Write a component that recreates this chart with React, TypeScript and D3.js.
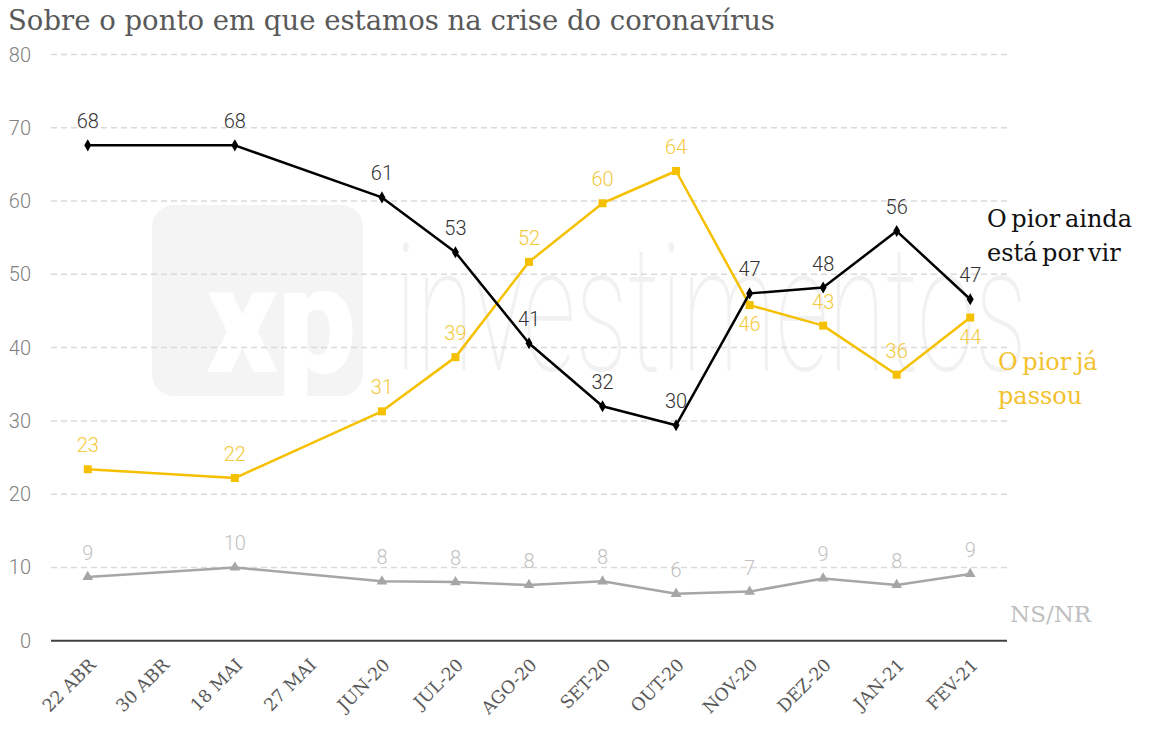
import React from "react";
import * as d3 from "d3";

// x-axis categories (only some of them carry a survey point)
const categories = [
  "22 ABR", "30 ABR", "18 MAI", "27 MAI", "JUN-20", "JUL-20", "AGO-20",
  "SET-20", "OUT-20", "NOV-20", "DEZ-20", "JAN-21", "FEV-21",
];
const surveyDates = [
  "22 ABR", "18 MAI", "JUN-20", "JUL-20", "AGO-20", "SET-20",
  "OUT-20", "NOV-20", "DEZ-20", "JAN-21", "FEV-21",
];

const piorAindaValues = [67.6, 67.6, 60.5, 53.0, 40.6, 32.0, 29.4, 47.4, 48.2, 55.9, 46.6];
const piorAindaLabels = [68, 68, 61, 53, 41, 32, 30, 47, 48, 56, 47];

const piorPassouValues = [23.4, 22.2, 31.3, 38.7, 51.7, 59.7, 64.1, 45.8, 43.0, 36.3, 44.1];
const piorPassouLabels = [23, 22, 31, 39, 52, 60, 64, 46, 43, 36, 44];
const piorPassouBelow = ["NOV-20", "FEV-21"];

const nsnrValues = [8.7, 10.0, 8.1, 8.0, 7.6, 8.1, 6.4, 6.7, 8.5, 7.6, 9.1];
const nsnrLabels = [9, 10, 8, 8, 8, 8, 6, 7, 9, 8, 9];

const yTicks = [0, 10, 20, 30, 40, 50, 60, 70, 80];

const W = 1153;
const H = 731;
const SLAB = "'DejaVu Serif', serif";
const SANS = "Roboto, 'Noto Sans', sans-serif";

interface Series {
  key: string;
  values: number[];
  labels: number[];
  line: string;
  text: string;
  symbol: d3.SymbolType;
  size: number;
  below: string[];
}

const series: Series[] = [
  {
    key: "nsnr",
    values: nsnrValues,
    labels: nsnrLabels,
    line: "#a6a6a6",
    text: "#bfbfbf",
    symbol: d3.symbolTriangle,
    size: 50,
    below: [],
  },
  {
    key: "passou",
    values: piorPassouValues,
    labels: piorPassouLabels,
    line: "#f5c000",
    text: "#f4c93c",
    symbol: d3.symbolSquare,
    size: 64,
    below: piorPassouBelow,
  },
  {
    key: "ainda",
    values: piorAindaValues,
    labels: piorAindaLabels,
    line: "#000000",
    text: "#333333",
    symbol: d3.symbolDiamond,
    size: 42,
    below: [],
  },
];

export default function App() {
  const x = d3.scalePoint<string>().domain(categories).range([51, 1007]).padding(0.5);
  const y = d3.scaleLinear().domain([0, 80]).range([640.7, 54.5]);
  const [x0, x1] = x.range();

  const line = d3
    .line<number>()
    .x((_, i) => x(surveyDates[i]) ?? 0)
    .y((d) => y(d));

  return (
    <svg
      width={W}
      height={H}
      style={{ position: "absolute", left: 0, top: 0, background: "#fff" }}
    >
      {/* watermark */}
      <g>
        <rect x={152} y={205} width={211} height={191} rx={22} fill="#f4f4f4" />
        <text
          x={206}
          y={372}
          fontFamily={SANS}
          fontWeight={900}
          fontSize={150}
          fill="#ffffff"
          textLength={150}
          lengthAdjust="spacingAndGlyphs"
        >
          xp
        </text>
        <text
          x={395}
          y={370}
          fontFamily={SANS}
          fontWeight={100}
          fontSize={176}
          fill="#f1f1f1"
          textLength={632}
          lengthAdjust="spacingAndGlyphs"
        >
          investimentos
        </text>
      </g>

      <text
        x={8}
        y={30}
        fontFamily={SLAB}
        fontSize={27}
        fill="#595959"
        textLength={767}
        lengthAdjust="spacingAndGlyphs"
      >
        Sobre o ponto em que estamos na crise do coronavírus
      </text>

      {/* grid */}
      <g>
        {yTicks.filter((t) => t > 0).map((t) => (
          <line
            key={t}
            x1={x0}
            x2={x1}
            y1={y(t)}
            y2={y(t)}
            stroke="#d9d9d9"
            strokeWidth={1.5}
            strokeDasharray="6 4"
          />
        ))}
        {yTicks.map((t) => (
          <text
            key={"l" + t}
            x={31}
            y={y(t)}
            dy="0.35em"
            textAnchor="end"
            fontFamily={SANS}
            fontWeight={300}
            fontSize={20}
            fill="#7f7f7f"
          >
            {t}
          </text>
        ))}
        <line x1={x0} x2={x1} y1={y(0)} y2={y(0)} stroke="#404040" strokeWidth={2} />
      </g>

      {/* x labels */}
      <g>
        {categories.map((c) => (
          <text
            key={c}
            transform={`translate(${(x(c) ?? 0) + 9},${666}) rotate(-45)`}
            textAnchor="end"
            fontFamily={SLAB}
            fontSize={17.5}
            fill="#595959"
          >
            {c}
          </text>
        ))}
      </g>

      {/* lines, markers, labels */}
      {series.map((s) => (
        <g key={s.key}>
          <path
            d={line(s.values) || ""}
            fill="none"
            stroke={s.line}
            strokeWidth={2.5}
            strokeLinejoin="round"
          />
          {s.values.map((v, i) => (
            <path
              key={i}
              transform={`translate(${x(surveyDates[i])},${y(v)})`}
              d={d3.symbol(s.symbol, s.size)() || ""}
              fill={s.line}
            />
          ))}
          {s.values.map((v, i) => {
            const below = s.below.includes(surveyDates[i]);
            return (
              <text
                key={"t" + i}
                x={x(surveyDates[i])}
                y={y(v) + (below ? 26 : -17)}
                textAnchor="middle"
                fontFamily={SANS}
                fontWeight={300}
                fontSize={20}
                fill={s.text}
              >
                {s.labels[i]}
              </text>
            );
          })}
        </g>
      ))}

      {/* series names */}
      <g fontFamily={SLAB} fontSize={24}>
        <text x={987} y={227} fill="#111" wordSpacing={-3}>O pior ainda</text>
        <text x={987} y={261} fill="#111" wordSpacing={-3}>está por vir</text>
        <text x={998} y={370} fill="#f2c230" wordSpacing={-3}>O pior já</text>
        <text x={998} y={404} fill="#f2c230">passou</text>
        <text x={1010} y={622} fill="#bfbfbf" fontSize={23}>NS/NR</text>
      </g>
    </svg>
  );
}
